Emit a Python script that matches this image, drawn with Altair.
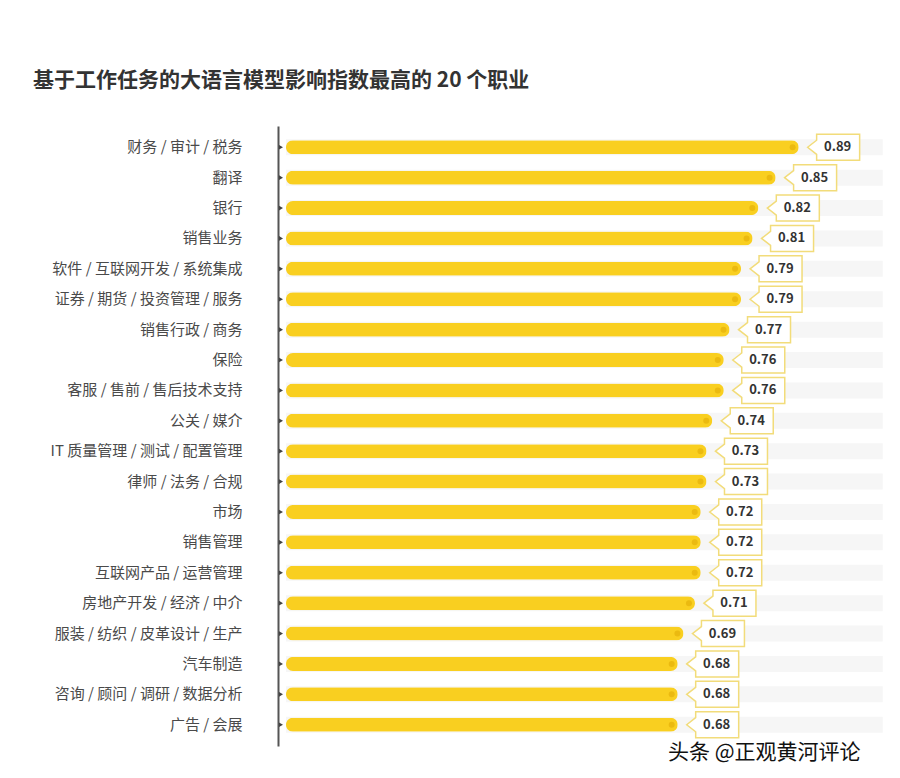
import altair as alt
import pandas as pd

jobs = ["财务 / 审计 / 税务", "翻译", "银行", "销售业务", "软件 / 互联网开发 / 系统集成",
        "证券 / 期货 / 投资管理 / 服务", "销售行政 / 商务", "保险", "客服 / 售前 / 售后技术支持",
        "公关 / 媒介", "IT 质量管理 / 测试 / 配置管理", "律师 / 法务 / 合规", "市场", "销售管理",
        "互联网产品 / 运营管理", "房地产开发 / 经济 / 中介", "服装 / 纺织 / 皮革设计 / 生产",
        "汽车制造", "咨询 / 顾问 / 调研 / 数据分析", "广告 / 会展"]
values = [0.89, 0.85, 0.82, 0.81, 0.79, 0.79, 0.77, 0.76, 0.76, 0.74,
          0.73, 0.73, 0.72, 0.72, 0.72, 0.71, 0.69, 0.68, 0.68, 0.68]
track_max = 1.036

title_text = "基于工作任务的大语言模型影响指数最高的 20 个职业"
watermark_text = "头条 @正观黄河评论"

df = pd.DataFrame({"job": jobs, "value": values,
                   "label": [f"{v:.2f}" for v in values],
                   "track": [track_max] * len(jobs)})

FONT = "Noto Sans CJK SC"
W, H = 612, 620

xs = alt.Scale(domain=[0, 1], range=[8, 584])
ys = alt.Scale(paddingInner=0, paddingOuter=0.2)
ybase = alt.Y("job:N", sort=jobs, scale=ys,
              axis=alt.Axis(title=None, ticks=False, labelPadding=36, labelFontSize=15,
                            labelColor="#4a4a4a", labelFont=FONT, domainColor="#555",
                            domainWidth=2, labelLimit=300))

base = alt.Chart(df)

track = base.mark_bar(size=16, color="#F6F6F6", cornerRadius=0).encode(
    x=alt.X("track:Q", scale=xs, axis=None), y=ybase)

bars = base.mark_bar(size=14, color="#F9CF20", cornerRadius=7).encode(
    x=alt.X("value:Q", scale=xs, axis=None), y=ybase)

dots = base.mark_circle(size=36, color="#EBBA10", opacity=1, xOffset=-6).encode(
    x=alt.X("value:Q", scale=xs), y=alt.Y("job:N", sort=jobs, scale=ys))

ticks = base.mark_point(shape="triangle-right", size=22, filled=True, color="#444",
                        opacity=1).encode(
    x=alt.value(3), y=alt.Y("job:N", sort=jobs, scale=ys))

box_path = ("M -1 0 L -0.654 -0.27 L -0.654 -0.5 L 1 -0.5 L 1 0.5 "
            "L -0.654 0.5 L -0.654 0.27 Z")
boxes = base.mark_point(shape=box_path, size=2704, filled=False, fill="white",
                        fillOpacity=1, stroke="#F2DC7A", strokeWidth=1.5, opacity=1,
                        xOffset=35).encode(
    x=alt.X("value:Q", scale=xs), y=alt.Y("job:N", sort=jobs, scale=ys))

labels = base.mark_text(font=FONT, fontSize=13, fontWeight="bold", color="#333",
                        dx=39, align="center", baseline="middle").encode(
    x=alt.X("value:Q", scale=xs), y=alt.Y("job:N", sort=jobs, scale=ys),
    text="label:N")

title = alt.Chart(pd.DataFrame({"t": [title_text]})).mark_text(
    font=FONT, fontSize=21, fontWeight="bold", color="#333", align="left",
    baseline="alphabetic").encode(x=alt.value(-245), y=alt.value(-39), text="t:N")

wm = alt.Chart(pd.DataFrame({"t": [watermark_text]})).mark_text(
    font=FONT, fontSize=21, color="#111", align="left",
    baseline="alphabetic").encode(x=alt.value(390), y=alt.value(633), text="t:N")

chart = alt.layer(track, bars, dots, ticks, boxes, labels, title, wm).properties(
    width=W, height=H,
    autosize=alt.AutoSizeParams(type="none"),
    padding={"left": 270, "top": 118, "right": 0, "bottom": 24},
    background="white",
).configure_view(stroke=None)

chart.save("out.html", embed_options={"renderer": "svg", "actions": False})
